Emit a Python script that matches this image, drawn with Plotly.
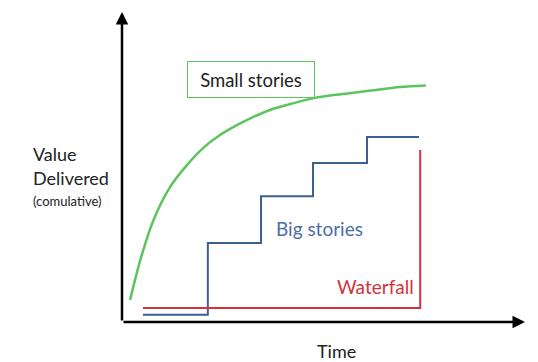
import plotly.graph_objects as go

# Conceptual chart: value delivered over time (axes 0..10, no ticks)
small_x = [0.20, 0.45, 0.77, 1.19, 1.61, 2.01, 2.43, 2.85, 3.25, 3.67, 4.09,
           4.79, 5.24, 6.08, 6.9, 7.54]
small_y = [0.71, 1.98, 3.25, 4.35, 5.06, 5.61, 6.03, 6.35, 6.61, 6.84, 7.0,
           7.23, 7.32, 7.45, 7.58, 7.63]

big_x = [0.52, 2.13, 3.45, 4.74, 6.08, 7.37]
big_y = [0.23, 2.55, 4.06, 5.13, 5.97, 5.97]

waterfall_x = [0.52, 7.4]
waterfall_y = [0.45, 5.55]

GREEN = "#5cc45c"
BLUE = "#3c5f8f"
RED = "#d3323a"
FONT = "Lato, 'Open Sans', sans-serif"

fig = go.Figure()
fig.add_trace(go.Scatter(x=small_x, y=small_y, mode="lines",
                         line=dict(color=GREEN, width=2.5, shape="spline", smoothing=0.8)))
fig.add_trace(go.Scatter(x=big_x, y=big_y, mode="lines",
                         line=dict(color=BLUE, width=2, shape="hv")))
fig.add_trace(go.Scatter(x=waterfall_x, y=waterfall_y, mode="lines",
                         line=dict(color=RED, width=2, shape="hv")))

# axis arrows
for ax_, ay_, x_, y_ in [(0, 0, 10, 0), (0, 0, 0, 10)]:
    fig.add_annotation(x=x_, y=y_, ax=ax_, ay=ay_, xref="x", yref="y",
                       axref="x", ayref="y", showarrow=True, arrowhead=2,
                       arrowsize=1, arrowwidth=2.5, arrowcolor="black", text="")

fig.add_annotation(x=3.2, y=7.81, text="Small stories", showarrow=False,
                   font=dict(family=FONT, size=18.5, color="#222"),
                   bordercolor=GREEN, borderwidth=1, borderpad=3,
                   width=120, height=29, bgcolor="white")
fig.add_annotation(x=4.89, y=3.03, text="Big stories", showarrow=False,
                   font=dict(family=FONT, size=19, color="#4a6fa5"))
fig.add_annotation(x=6.28, y=1.16, text="Waterfall", showarrow=False,
                   font=dict(family=FONT, size=19, color=RED))
fig.add_annotation(x=5.33, y=-0.135, yref="paper", text="Time", showarrow=False,
                   font=dict(family=FONT, size=18, color="#222"))

for txt, yp, sz in [("Value", 154, 18), ("Delivered", 178, 18), ("(comulative)", 201, 13)]:
    fig.add_annotation(x=-0.225, xref="paper", y=(322 - yp) / 310, yref="paper",
                       xanchor="left", text=txt, showarrow=False,
                       font=dict(family=FONT, size=sz, color="#222"))

# page body has an 8px margin, so the figure is sized to fit inside it
fig.update_layout(
    width=530, height=354,
    margin=dict(l=114, r=13, t=4, b=40),
    showlegend=False,
    plot_bgcolor="white", paper_bgcolor="white",
    xaxis=dict(range=[0, 10], visible=False, fixedrange=True),
    yaxis=dict(range=[0, 10], visible=False, fixedrange=True),
)

fig.write_html("out.html", config={"displayModeBar": False})
